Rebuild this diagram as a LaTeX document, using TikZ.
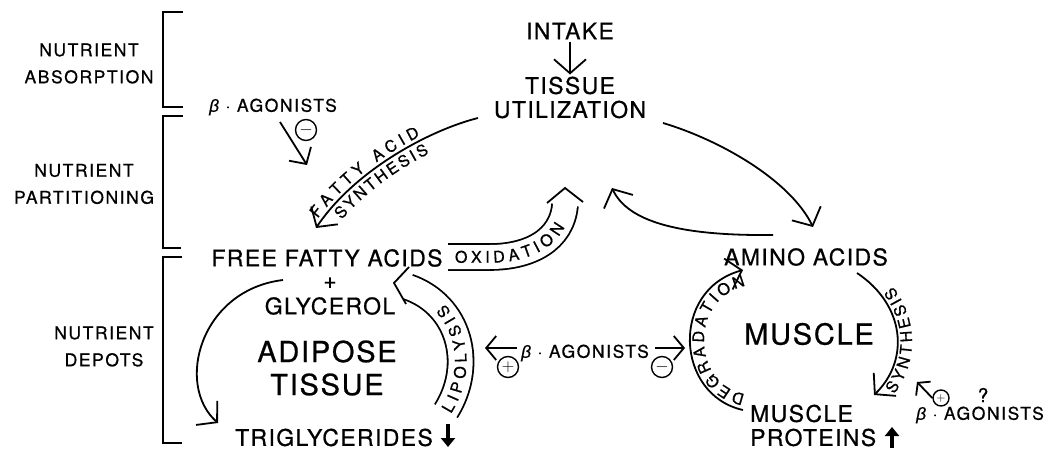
\documentclass[tikz,border=0pt]{standalone}
\usepackage{fontspec}
\setmainfont{TeX Gyre Heros}
\newfontfamily\mainf{TeX Gyre Heros}[LetterSpace=6,FakeBold=0.7]
\newfontfamily\sidef{TeX Gyre Heros}[LetterSpace=9,FakeBold=0.7]
\newfontfamily\pathf{TeX Gyre Heros}[FakeBold=0.7]
\newfontfamily\grk{Liberation Sans}[FakeBold=0.5]
\usetikzlibrary{arrows.meta,decorations.text}
\newcommand\fmain{\mainf\fontsize{23}{24}\selectfont}
\newcommand\fside{\sidef\fontsize{17.5}{27}\selectfont}
\newcommand\fbig{\mainf\fontsize{29}{33}\selectfont}
\newcommand\fpath{\pathf\fontsize{16}{18}\selectfont}
\newcommand\fsign{\fontsize{16}{16}\selectfont}
\newcommand\bet{{\grk\itshape β}}
\begin{document}
\begin{tikzpicture}[x=1pt,y=-1pt,
  lw/.style={line width=1.8pt},
  arr/.style={lw, -{Straight Barb[length=14pt,width=32pt]}},
  marr/.style={lw, -{Straight Barb[length=12pt,width=26pt]}},
  sarr/.style={lw, -{Straight Barb[length=10pt,width=24pt]}},
  bandout/.style={line width=27.6pt},
  bandin/.style={line width=24pt, white, line cap=rect},
  vhead/.style={lw, line join=miter},
  brk/.style={line width=1.5pt},
  lbl/.style={inner sep=2pt, font=\fmain, align=center},
  big/.style={inner sep=2pt, font=\fbig, align=center},
  side/.style={inner sep=2pt, font=\fside, align=center},
  sign/.style={circle, draw, line width=1.4pt, minimum size=21pt, inner sep=0pt, font=\fsign},
  thick arrow/.style={line width=3.8pt, -{Triangle[length=9pt,width=14pt]}},
  ptext/.style={decorate, decoration={text along path, text align=fit to path, text={|\fpath|#1}}}
]
\useasboundingbox (0,0) rectangle (1048,449);

% brackets
\draw[brk] (183,12) -- (163,12) -- (163,107) -- (183,107);
\draw[brk] (183,116) -- (163,116) -- (163,248) -- (181,248);
\draw[brk] (182,257) -- (163,257) -- (163,443) -- (182,443);

% side labels
\node[side] (abs) at (89,63.5) {NUTRIENT\\ABSORPTION};
\node[side] (part) at (84,184) {NUTRIENT\\PARTITIONING};
\node[side] (dep) at (104,346.5) {NUTRIENT\\DEPOTS};

% bands (double-line arrows)
\coordinate (ox1) at (448,257);
\coordinate (ox2) at (565,205);
\draw[bandout] (ox1) -- (490,257) .. controls (530,257) and (562,240) .. (ox2);
\draw[bandin] (ox1) -- (490,257) .. controls (530,257) and (562,240) .. (ox2);
\draw[vhead] (547,203) -- (565,188) -- (583,202);
\coordinate (lp1) at (446,411);
\coordinate (lp2) at (408,287);
\draw[bandout] (lp1) .. controls (475,365) and (460,305) .. (lp2);
\draw[bandin] (lp1) .. controls (475,365) and (460,305) .. (lp2);
\draw[vhead] (409,267) -- (394,283) -- (406,304);

% main nodes
\node[lbl] (intake) at (570,31) {INTAKE};
\node[lbl] (tu) at (570,97.5) {TISSUE\\UTILIZATION};
\node[lbl] (ffa) at (327,258) {FREE FATTY ACIDS};
\node[lbl] (plus) at (330,283) {+};
\node[lbl] (gly) at (330,306) {GLYCEROL};
\node[big] (adi) at (327,368) {ADIPOSE\\TISSUE};
\node[lbl] (tri) at (334,437.5) {TRIGLYCERIDES};
\node[lbl] (amino) at (806,257) {AMINO ACIDS};
\node[big] (muscle) at (809,334) {MUSCLE};
\node[lbl, align=left, anchor=west] (mp) at (748,425.5) {MUSCLE\\PROTEINS};

% beta agonists
\node[side] (b1) at (273,107) {\bet{} · AGONISTS};
\node[side] (b2) at (585,353) {\bet{} · AGONISTS};
\node[side] (b3) at (980,415) {\bet{} · AGONISTS};
\node[side, font=\fside\fontsize{19}{20}\selectfont] (q) at (983,395) {?};
\node[sign] (s1) at (306,130) {$-$};
\node[sign] (s2) at (508,367) {$+$};
\node[sign] (s3) at (662,367) {$-$};
\node[sign, minimum size=16pt, font=\fontsize{13}{13}\selectfont] (s4) at (941,398) {$+$};

% arrows
\draw[arr] (intake) -- (tu);
\coordinate (fas1) at (478,118);
\coordinate (fas2) at (316,228);
\draw[arr] (fas1) .. controls (430,130) and (355,170) .. (fas2);
\coordinate (aa1) at (663,123);
\coordinate (aa2) at (813,227);
\draw[arr] (aa1) .. controls (720,140) and (790,180) .. (aa2);
\coordinate (bk1) at (773,235);
\coordinate (bk2) at (612,188);
\draw[arr] (bk1) .. controls (680,236) and (628,222) .. (bk2);
\coordinate (ad1) at (283,280);
\coordinate (ad2) at (218,423);
\draw[arr] (ad1) .. controls (200,290) and (175,385) .. (ad2);
\coordinate (dg1) at (743,410);
\coordinate (dg2) at (743,270);
\draw[arr] (dg1) .. controls (675,395) and (670,290) .. (dg2);
\coordinate (sy1) at (857,273);
\coordinate (sy2) at (874,395);
\draw[arr] (sy1) .. controls (905,305) and (910,360) .. (sy2);

% beta agonist arrows
\coordinate (a1s) at (280,122);
\coordinate (a1e) at (307,165);
\draw[marr] (a1s) -- (a1e);
\coordinate (a2s) at (517,348);
\coordinate (a2e) at (485,348);
\draw[sarr] (a2s) -- (a2e);
\coordinate (a3s) at (655,348);
\coordinate (a3e) at (685,348);
\draw[sarr] (a3s) -- (a3e);
\coordinate (a4e) at (917,382);
\draw[lw, -{Straight Barb[length=8pt,width=20pt]}] (s4.west) -- (a4e);

% thick arrows
\coordinate (td1) at (448,424);
\coordinate (td2) at (448,447);
\draw[thick arrow] (td1) -- (td2);
\coordinate (tu1) at (892,448);
\coordinate (tu2) at (892,427);
\draw[thick arrow] (tu1) -- (tu2);

% curved labels
\path[ptext={FATTY ACID}, decoration={raise=4pt}] (320.8,221.1) .. controls (346.8,186.1) and (385.5,158.1) .. (422.2,139.6);
\path[ptext={SYNTHESIS}, decoration={raise=-15.5pt}] (330.1,209.5) .. controls (355.5,179.9) and (389.7,156.0) .. (422.2,139.6);
\path[ptext={OXIDATION}, decoration={raise=-5.7pt}] (455,257) -- (490,257) .. controls (522,257) and (548.9,246.1) .. (559.9,223.9);
\path[ptext={LIPOLYSIS}, decoration={raise=-5.7pt}] (446,411) .. controls (468,376.5) and (465,334) .. (440,307.5);
\path[ptext={DEGRADATION}, decoration={raise=-14.5pt}] (741,408) .. controls (675,395) and (670,290) .. (741,272);
\path[ptext={SYNTHESIS}, decoration={raise=-14.5pt}] (881.9,386.2) .. controls (903.0,358.9) and (902.9,323.0) .. (880.7,294.6);
\end{tikzpicture}
\end{document}
